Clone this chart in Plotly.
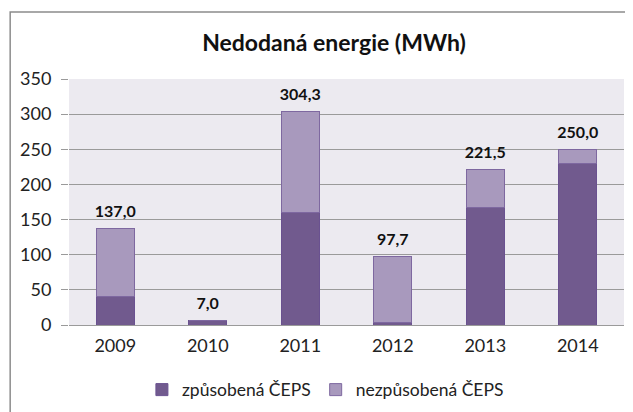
import plotly.graph_objects as go

years = ["2009", "2010", "2011", "2012", "2013", "2014"]
totals = [137.0, 7.0, 304.3, 97.7, 221.5, 250.0]
zpusobena = [40.0, 7.0, 160.0, 3.0, 167.0, 230.0]
nezpusobena = [round(t - z, 1) for t, z in zip(totals, zpusobena)]

DARK = "#715A8E"
LIGHT = "#A899BD"
FONT = "Lato"

fig = go.Figure()
fig.add_trace(go.Bar(x=years, y=zpusobena, name="způsobená ČEPS",
                     marker=dict(color=DARK, line=dict(color="#6A5190", width=1))))
fig.add_trace(go.Bar(x=years, y=nezpusobena, name="nezpůsobená ČEPS",
                     marker=dict(color=LIGHT, line=dict(color="#7E68A0", width=1))))

# total labels above each stack (invisible marker lifts the text a bit)
labels = ["<b>%s</b>" % ("%.1f" % t).replace(".", ",") for t in totals]
fig.add_trace(go.Scatter(x=years, y=totals, mode="markers+text", text=labels,
                         textposition="top center", showlegend=False,
                         hoverinfo="skip", cliponaxis=False,
                         marker=dict(size=10, color="rgba(0,0,0,0)"),
                         textfont=dict(family=FONT, size=16, color="#111111")))

# outer chart frame
fig.add_shape(type="rect", xref="paper", yref="paper",
              x0=-0.106, x1=1.05, y0=-0.6, y1=1.272,
              line=dict(color="#8C8C8C", width=1.5))

# page has an 8px body margin, so margins are shifted by 8px
fig.update_layout(
    barmode="stack",
    bargap=0.59,
    width=633, height=412,
    margin=dict(l=59, r=17, t=71, b=95),
    paper_bgcolor="white",
    plot_bgcolor="#ECEAF0",
    title=dict(text="<b>Nedodaná energie (MWh)</b>", x=0.515, xanchor="center",
               y=0.915, yanchor="middle",
               font=dict(family=FONT, size=23, color="#111111")),
    font=dict(family=FONT, size=18, color="#222222"),
    legend=dict(orientation="h", x=0.462, xanchor="center", y=-0.19, yanchor="top",
                font=dict(family=FONT, size=17.5, color="#222222"),
                itemwidth=30, traceorder="normal"),
    showlegend=True,
)
fig.update_yaxes(range=[0, 350], dtick=50, showgrid=True, gridcolor="#9A9A9A",
                 gridwidth=1, zeroline=False, showline=False,
                 ticks="outside", ticklen=7, tickcolor="#9A9A9A",
                 ticklabelstandoff=6)
fig.update_xaxes(type="category", showline=True, linecolor="#9A9A9A", linewidth=1,
                 ticks="", showgrid=False, ticklabelstandoff=4)

fig.write_html("out.html")
